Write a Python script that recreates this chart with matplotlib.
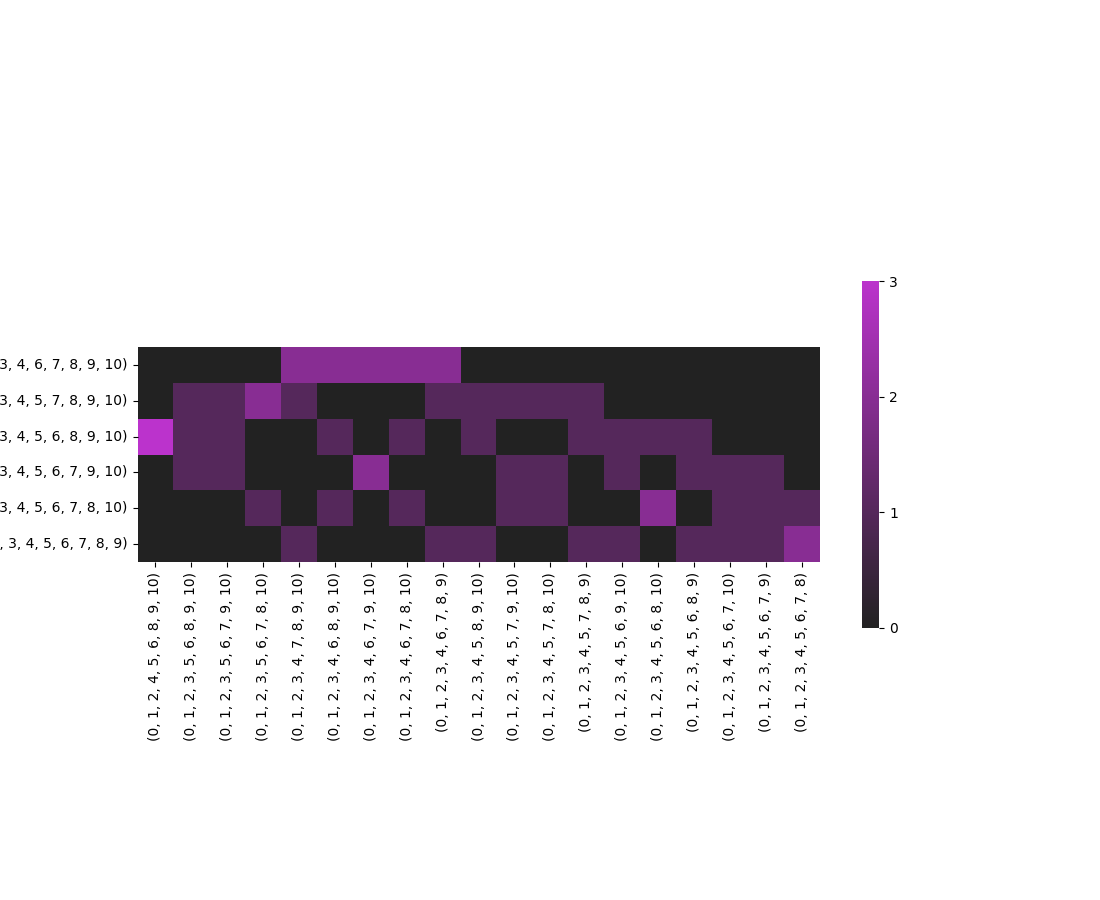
import matplotlib
matplotlib.use("Agg")
import matplotlib.pyplot as plt
import pandas as pd
import seaborn as sns

# rows: 0..10 with one of 5..10 left out
row_labels = [
    (0, 1, 2, 3, 4, 6, 7, 8, 9, 10),
    (0, 1, 2, 3, 4, 5, 7, 8, 9, 10),
    (0, 1, 2, 3, 4, 5, 6, 8, 9, 10),
    (0, 1, 2, 3, 4, 5, 6, 7, 9, 10),
    (0, 1, 2, 3, 4, 5, 6, 7, 8, 10),
    (0, 1, 2, 3, 4, 5, 6, 7, 8, 9),
]

col_labels = [
    (0, 1, 2, 4, 5, 6, 8, 9, 10),
    (0, 1, 2, 3, 5, 6, 8, 9, 10),
    (0, 1, 2, 3, 5, 6, 7, 9, 10),
    (0, 1, 2, 3, 5, 6, 7, 8, 10),
    (0, 1, 2, 3, 4, 7, 8, 9, 10),
    (0, 1, 2, 3, 4, 6, 8, 9, 10),
    (0, 1, 2, 3, 4, 6, 7, 9, 10),
    (0, 1, 2, 3, 4, 6, 7, 8, 10),
    (0, 1, 2, 3, 4, 6, 7, 8, 9),
    (0, 1, 2, 3, 4, 5, 8, 9, 10),
    (0, 1, 2, 3, 4, 5, 7, 9, 10),
    (0, 1, 2, 3, 4, 5, 7, 8, 10),
    (0, 1, 2, 3, 4, 5, 7, 8, 9),
    (0, 1, 2, 3, 4, 5, 6, 9, 10),
    (0, 1, 2, 3, 4, 5, 6, 8, 10),
    (0, 1, 2, 3, 4, 5, 6, 8, 9),
    (0, 1, 2, 3, 4, 5, 6, 7, 10),
    (0, 1, 2, 3, 4, 5, 6, 7, 9),
    (0, 1, 2, 3, 4, 5, 6, 7, 8),
]

counts = [
    [0, 0, 0, 0, 2, 2, 2, 2, 2, 0, 0, 0, 0, 0, 0, 0, 0, 0, 0],
    [0, 1, 1, 2, 1, 0, 0, 0, 1, 1, 1, 1, 1, 0, 0, 0, 0, 0, 0],
    [3, 1, 1, 0, 0, 1, 0, 1, 0, 1, 0, 0, 1, 1, 1, 1, 0, 0, 0],
    [0, 1, 1, 0, 0, 0, 2, 0, 0, 0, 1, 1, 0, 1, 0, 1, 1, 1, 0],
    [0, 0, 0, 1, 0, 1, 0, 1, 0, 0, 1, 1, 0, 0, 2, 0, 1, 1, 1],
    [0, 0, 0, 0, 1, 0, 0, 0, 1, 1, 0, 0, 1, 1, 0, 1, 1, 1, 2],
]

df = pd.DataFrame(counts,
                  index=[str(r) for r in row_labels],
                  columns=[str(c) for c in col_labels])

# plain gray -> magenta, like the old dark_palette
cmap = sns.blend_palette(["#222222", "#bb33cc"], as_cmap=True)

fig, ax = plt.subplots(figsize=(11, 9), dpi=100)
sns.heatmap(df, cmap=cmap, vmin=0, vmax=3, square=True,
            cbar_kws={"shrink": .5, "ticks": [0, 1, 2, 3]}, ax=ax)

fig.savefig("out.png")
